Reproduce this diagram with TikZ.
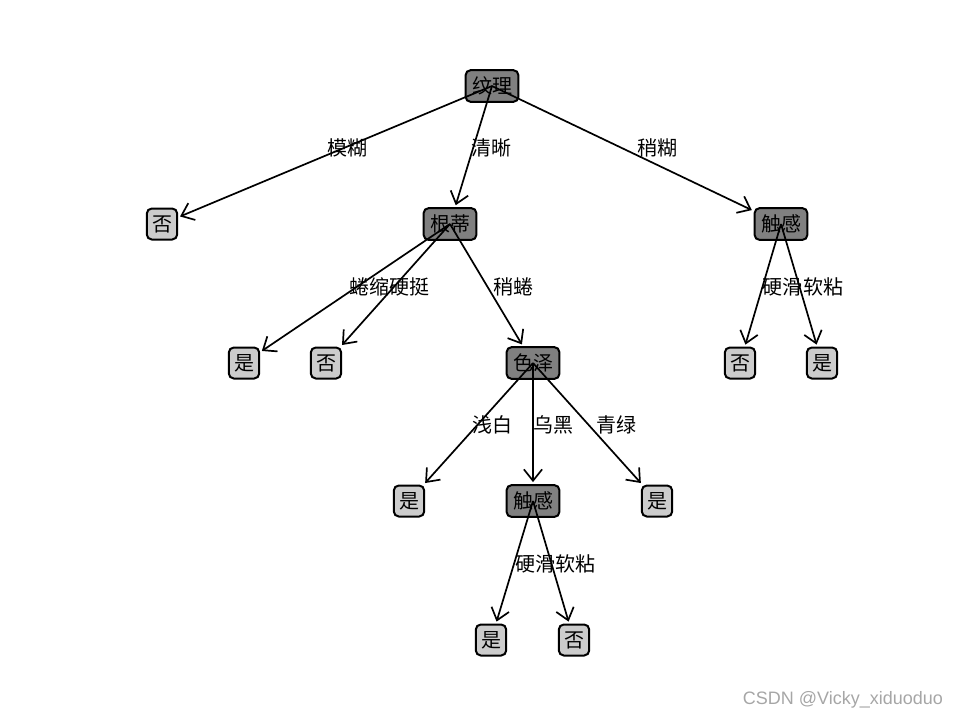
\documentclass[tikz,border=0pt]{standalone}
\usepackage{fontspec}
\newfontfamily\cjk{Noto Sans CJK SC}
\newfontfamily\wmfont{Liberation Sans}
\usetikzlibrary{arrows.meta}
\definecolor{decfill}{gray}{0.5}
\definecolor{leaffill}{gray}{0.8}
\definecolor{wmgray}{gray}{0.65}

\begin{document}
\begin{tikzpicture}[
    x=0.5pt, y=-0.5pt,
    decision/.style={draw, line width=1pt, rounded corners=2.5pt, fill=decfill,
                     font=\cjk\fontsize{10}{10}\selectfont, inner xsep=3.2pt,
                     minimum height=15.5pt},
    leaf/.style={decision, fill=leaffill, inner xsep=2.6pt},
    edgelabel/.style={font=\cjk\fontsize{10}{10}\selectfont, inner sep=0pt},
    arrow/.style={-{Straight Barb[length=2mm, width=3.2mm]}, line width=0.85pt, shorten >=1pt}
]
\useasboundingbox (0,0) rectangle (960,720);
% decision nodes
\node[decision] (texture) at (492,86) {纹理};
\node[decision] (root) at (450,224) {根蒂};
\node[decision] (touchA) at (781,224) {触感};
\node[decision] (colour) at (533,363) {色泽};
\node[decision] (touchB) at (533,501) {触感};
% leaves
\node[leaf] (noA) at (162,224) {否};
\node[leaf] (yesA) at (244,363) {是};
\node[leaf] (noB) at (326,363) {否};
\node[leaf] (noC) at (740,363) {否};
\node[leaf] (yesB) at (822,363) {是};
\node[leaf] (yesC) at (409,501) {是};
\node[leaf] (yesD) at (657,501) {是};
\node[leaf] (yesE) at (491,640) {是};
\node[leaf] (noD) at (574,640) {否};
% edges
\draw[arrow] (texture.center) -- (noA);
\draw[arrow] (texture.center) -- (root);
\draw[arrow] (texture.center) -- (touchA);
\draw[arrow] (root.center) -- (yesA);
\draw[arrow] (root.center) -- (noB);
\draw[arrow] (root.center) -- (colour);
\draw[arrow] (touchA.center) -- (noC);
\draw[arrow] (touchA.center) -- (yesB);
\draw[arrow] (colour.center) -- (yesC);
\draw[arrow] (colour.center) -- (touchB);
\draw[arrow] (colour.center) -- (yesD);
\draw[arrow] (touchB.center) -- (yesE);
\draw[arrow] (touchB.center) -- (noD);
% edge labels
\node[edgelabel] (lblA) at (347,148) {模糊};
\node[edgelabel] (lblB) at (491,148) {清晰};
\node[edgelabel] (lblC) at (657,148) {稍糊};
\node[edgelabel] (lblD) at (369,287) {蜷缩};
\node[edgelabel] (lblE) at (409,287) {硬挺};
\node[edgelabel] (lblF) at (513,287) {稍蜷};
\node[edgelabel] (lblG) at (782,287) {硬滑};
\node[edgelabel] (lblH) at (823,287) {软粘};
\node[edgelabel] (lblI) at (492,425) {浅白};
\node[edgelabel] (lblJ) at (553,425) {乌黑};
\node[edgelabel] (lblK) at (616,425) {青绿};
\node[edgelabel] (lblL) at (535,564) {硬滑};
\node[edgelabel] (lblM) at (575,564) {软粘};
% watermark
\node[font=\wmfont\fontsize{9}{9}\selectfont, text=wmgray, inner sep=0pt] (mark) at (843,700) {CSDN @Vicky\_xiduoduo};
\end{tikzpicture}
\end{document}
